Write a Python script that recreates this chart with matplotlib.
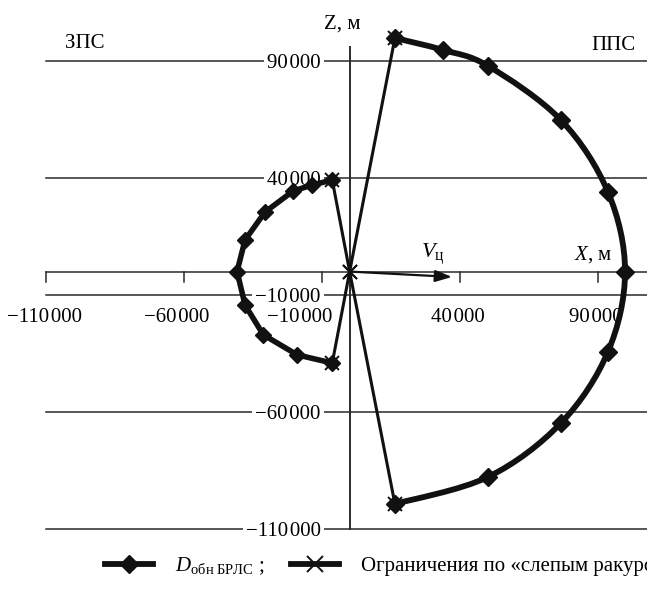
"""Detection zone of the onboard radar with blind-aspect limits"""

import matplotlib
matplotlib.use('Agg')
import matplotlib.pyplot as plt
from matplotlib.path import Path
from matplotlib.patches import PathPatch
from matplotlib.lines import Line2D

plt.rcParams['font.family'] = ['Liberation Serif', 'DejaVu Serif']
plt.rcParams['mathtext.fontset'] = 'custom'
plt.rcParams['mathtext.rm'] = 'Liberation Serif'
plt.rcParams['mathtext.it'] = 'Liberation Serif:italic'

# Detection boundary, forward hemisphere (m)
front_x = [16400, 33800, 50100, 76600, 93600, 99800, 93600, 76600, 50100, 16400]
front_z = [99800, 94700, 87900, 64700, 34000, 0, -34300, -64700, -87800, -99300]

# Detection boundary, rear hemisphere (m)
rear_x = [-6300, -13600, -20500, -30700, -37900, -40800, -37900, -31300, -19000, -6300]
rear_z = [39100, 37000, 34400, 25400, 13500, 0, -14300, -27000, -35600, -39100]

# Blind-aspect limit lines through the origin
blind_upper_x = [-6300, 0, 16400]
blind_upper_z = [39100, 0, -99300]
blind_lower_x = [-6300, 0, 16400]
blind_lower_z = [-39100, 0, 99800]

# Target velocity vector
vel_x, vel_z = 37100, -2300

z_levels = [90000, 40000, -10000, -60000, -110000]
x_ticks = [-110000, -60000, -10000, 40000, 90000]

FS = 15


def fmt(v):
    s = f'{abs(v):,}'.replace(',', '\u200a')
    return ('\u2212' + s) if v < 0 else s


def smooth_path(xs, ys):
    # Catmull-Rom through the points, rendered as cubic Bezier segments
    pts = list(zip(xs, ys))
    n = len(pts)
    verts = [pts[0]]
    codes = [Path.MOVETO]
    for i in range(n - 1):
        p0 = pts[i - 1] if i > 0 else pts[i]
        p1 = pts[i]
        p2 = pts[i + 1]
        p3 = pts[i + 2] if i + 2 < n else pts[i + 1]
        c1 = (p1[0] + (p2[0] - p0[0]) / 6, p1[1] + (p2[1] - p0[1]) / 6)
        c2 = (p2[0] - (p3[0] - p1[0]) / 6, p2[1] - (p3[1] - p1[1]) / 6)
        verts += [c1, c2, p2]
        codes += [Path.CURVE4] * 3
    return Path(verts, codes)


fig = plt.figure(figsize=(6.47, 5.96), dpi=100)
ax = fig.add_axes([0, 0, 1, 1])
ax.set_xlim(-126700, 107750)
ax.set_ylim(-138650, 116050)
ax.axis('off')

line_col = '#2a2a2a'
x_right = ax.get_xlim()[1]

# Horizontal reference lines with labels on the left of the Z axis
for lv in z_levels:
    ax.plot([-110000, x_right], [lv, lv], color=line_col, lw=1.1, zorder=1)
    ax.annotate(fmt(lv), xy=(0, lv), xytext=(-29, 0), textcoords='offset pixels',
                ha='right', va='center_baseline', fontsize=FS, zorder=3,
                bbox=dict(boxstyle='square,pad=0.15', fc='white', ec='none'))

# X axis with downward ticks
ax.plot([-110000, x_right], [0, 0], color=line_col, lw=1.1, zorder=1)
for t in x_ticks:
    ax.plot([t, t], [0, -4300], color=line_col, lw=1.1, zorder=1)
shift = {-10000: -22, -60000: -7}
for t in x_ticks:
    ax.annotate(fmt(t), xy=(t, 0), xytext=(shift.get(t, -2), -43),
                textcoords='offset pixels', ha='center', va='center_baseline',
                fontsize=FS, zorder=3)

# Z axis
ax.plot([0, 0], [-110000, 96000], color=line_col, lw=1.4, zorder=1)

# Detection boundaries
ax.add_patch(PathPatch(smooth_path(front_x, front_z), fill=False, ec='#111111',
                       lw=4.2, capstyle='round', joinstyle='round', zorder=4))
ax.plot(front_x, front_z, ls='none', marker='D', ms=9, color='#111111', zorder=5)
ax.plot(rear_x, rear_z, color='#111111', lw=4.0, marker='D', ms=8.5,
        solid_joinstyle='miter', zorder=5)

# Blind-aspect limits
for bx, bz in [(blind_upper_x, blind_upper_z), (blind_lower_x, blind_lower_z)]:
    ax.plot(bx, bz, color='#111111', lw=2.2, marker='x', ms=10, mew=1.4, zorder=6)

# Velocity arrow
ax.annotate('', xy=(vel_x, vel_z), xytext=(0, 0),
            arrowprops=dict(arrowstyle='-|>,head_length=1.0,head_width=0.35',
                            color='#111111', lw=1.6, shrinkA=0, shrinkB=0), zorder=6)
ax.text(433 / 647, 1 - 254 / 596, r'$V_{\mathrm{ц}}$', transform=ax.transAxes,
        fontsize=FS + 1, ha='center', va='center')

# Axis titles and hemisphere labels
ax.text(342 / 647, 1 - 24 / 596, 'Z, м', transform=ax.transAxes, fontsize=FS,
        ha='center', va='center')
ax.text(593 / 647, 1 - 255 / 596, r'$X$, м', transform=ax.transAxes, fontsize=FS,
        ha='center', va='center')
ax.text(85 / 647, 1 - 44 / 596, 'ЗПС', transform=ax.transAxes, fontsize=FS,
        ha='center', va='center')
ax.text(613 / 647, 1 - 46 / 596, 'ППС', transform=ax.transAxes, fontsize=FS,
        ha='center', va='center')

# Legend
handles = [
    Line2D([], [], color='#111111', lw=4.2, marker='D', ms=9.5),
    Line2D([], [], color='#111111', lw=4.2, marker='x', ms=11, mew=1.4),
]
labels = [r'$D_{\mathrm{обн\ БРЛС}}$ ;', 'Ограничения по «слепым ракурсам»']
fig.legend(handles, labels, loc='center left', bbox_to_anchor=(105 / 647, 1 - 566 / 596),
           ncol=2, frameon=False, fontsize=FS, handlelength=2.3, handletextpad=1.05,
           columnspacing=1.3, borderpad=0, borderaxespad=0)

fig.savefig('out.png', dpi=100)
